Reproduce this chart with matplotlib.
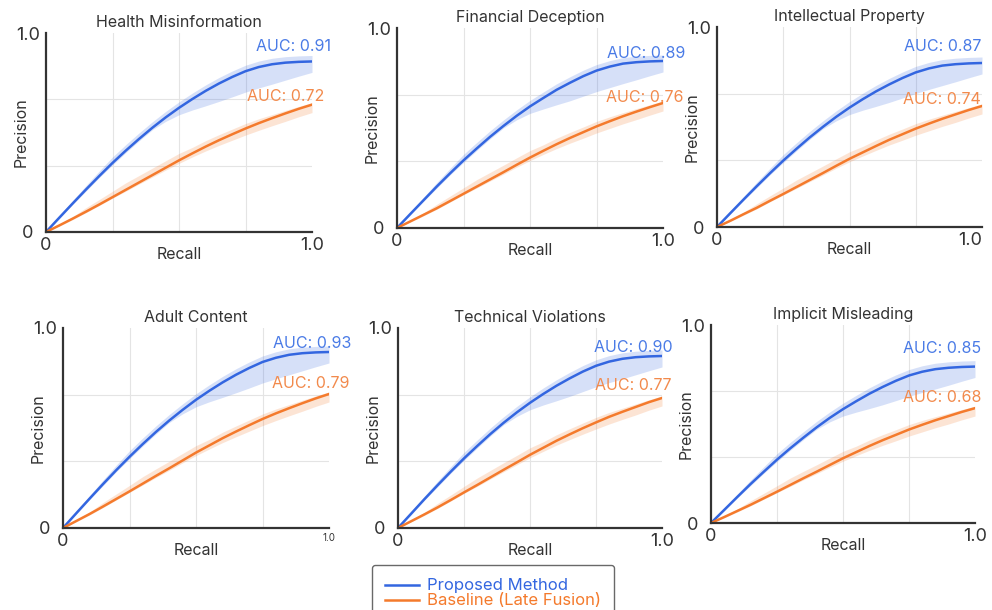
import matplotlib
matplotlib.use("Agg")
import matplotlib.pyplot as plt
import numpy as np

plt.rcParams['font.family'] = ['Inter', 'DejaVu Sans']

recall = [0, .05, .1, .15, .2, .25, .3, .35, .4, .45, .5,
          .55, .6, .65, .7, .75, .8, .85, .9, .95, 1.0]

titles = ['Health Misinformation', 'Financial Deception', 'Intellectual Property',
          'Adult Content', 'Technical Violations', 'Implicit Misleading']
auc_prop = [0.91, 0.89, 0.87, 0.93, 0.90, 0.85]
auc_base = [0.72, 0.76, 0.74, 0.79, 0.77, 0.68]

# precision values
prop_health = [0, .072, .143, .213, .281, .347, .409, .468, .524, .576, .624,
               .668, .709, .746, .779, .808, .829, .843, .851, .855, .857]
prop_fin = [0, .070, .139, .208, .274, .338, .398, .456, .510, .561, .608,
            .650, .691, .726, .759, .787, .807, .822, .829, .833, .835]
prop_ip = [0, .069, .137, .204, .269, .332, .391, .448, .501, .551, .597,
           .639, .678, .713, .745, .773, .793, .807, .814, .818, .82]
prop_adult = [0, .074, .147, .219, .289, .356, .420, .481, .538, .591, .641,
              .686, .728, .766, .800, .830, .851, .866, .874, .878, .88]
prop_tech = [0, .072, .144, .214, .282, .348, .410, .470, .526, .578, .626,
             .670, .711, .748, .782, .811, .832, .846, .854, .858, .86]
prop_impl = [0, .066, .132, .197, .259, .320, .377, .431, .483, .531, .575,
             .615, .653, .687, .718, .745, .764, .777, .784, .788, .79]

base_health = [0, .033, .067, .102, .138, .175, .212, .249, .286, .323, .360,
               .395, .429, .461, .491, .520, .547, .572, .596, .619, .640]
base_fin = [0, .033, .066, .099, .135, .171, .207, .243, .279, .316, .352,
            .386, .419, .450, .479, .508, .534, .559, .582, .604, .625]
base_ip = [0, .031, .064, .096, .131, .165, .200, .235, .270, .306, .341,
           .373, .405, .436, .464, .492, .517, .541, .563, .585, .605]
base_adult = [0, .035, .070, .107, .145, .183, .222, .261, .299, .338, .377,
              .413, .449, .482, .514, .545, .573, .599, .624, .648, .67]
base_tech = [0, .034, .068, .103, .140, .178, .215, .253, .291, .328, .366,
             .401, .436, .468, .499, .528, .556, .581, .605, .629, .65]
base_impl = [0, .030, .061, .092, .125, .158, .192, .226, .259, .293, .327,
             .358, .389, .418, .445, .472, .496, .519, .540, .561, .58]

proposed = [prop_health, prop_fin, prop_ip, prop_adult, prop_tech, prop_impl]
baseline = [base_health, base_fin, base_ip, base_adult, base_tech, base_impl]

# shaded band offsets (above / below the curve)
prop_up = [0, .01, .015, .02, .025, .03, .03, .03, .03, .03, .03,
           .03, .03, .03, .03, .03, .03, .03, .03, .03, .03]
prop_lo = [0, -.005, -.005, -.008, -.008, -.01, -.01, -.01, -.01, -.02, -.035,
           -.055, -.075, -.09, -.1, -.105, -.105, -.1, -.088, -.072, -.055]
base_up = [0, .005, .01, .02, .025, .03, .035, .035, .035, .035, .035,
           .03, .03, .028, .026, .025, .022, .018, .015, .012, .01]
base_lo = [0, -.003, -.005, -.005, -.005, -.005, -.007, -.008, -.01, -.012, -.015,
           -.018, -.022, -.026, -.03, -.033, -.036, -.038, -.04, -.04, -.04]

blue = '#3366e0'
orange = '#f47a2c'

# axes rectangles in pixels: left, right, top, bottom
W, H = 992, 610
boxes = [(46, 312, 33, 232), (397, 663, 28, 228), (717, 982, 27, 227),
         (63, 329, 328, 528), (398, 662, 328, 528), (711, 975, 325, 523)]
# AUC label positions (x in axes fraction, y in data)
blue_pos = [(0.93, .93), (0.936, .875), (0.85, .905), (0.936, .925), (0.89, .90), (0.875, .88)]
orange_pos = [(0.90, .68), (0.93, .655), (0.85, .64), (0.93, .725), (0.89, .71), (0.875, .633)]

fig = plt.figure(figsize=(W / 100, H / 100), dpi=100)

r = np.array(recall)
for i in range(6):
    l, rt, t, b = boxes[i]
    ax = fig.add_axes([l / W, 1 - b / H, (rt - l) / W, (b - t) / H])
    p = np.array(proposed[i])
    q = np.array(baseline[i])
    ax.fill_between(r, p + np.array(prop_lo), p + np.array(prop_up), color=blue, alpha=0.2, lw=0)
    ax.fill_between(r, q + np.array(base_lo), q + np.array(base_up), color=orange, alpha=0.2, lw=0)
    ax.plot(r, p, color=blue, lw=1.8, label='Proposed Method')
    ax.plot(r, q, color=orange, lw=1.8, label='Baseline (Late Fusion)')

    ax.text(blue_pos[i][0], blue_pos[i][1], 'AUC: %.2f' % auc_prop[i], color='#4a7be6',
            fontsize=11.5, ha='center', va='center')
    ax.text(orange_pos[i][0], orange_pos[i][1], 'AUC: %.2f' % auc_base[i], color='#f28a4c',
            fontsize=11.5, ha='center', va='center')

    ax.set_xlim(0, 1)
    ax.set_ylim(0, 1)
    ax.set_xticks([0, 1])
    ax.set_yticks([0, 1])
    ax.set_xticklabels(['0', '1.0'])
    ax.set_yticklabels(['0', '1.0'])
    ax.set_xticks([0.25, 0.5, 0.75], minor=True)
    ax.set_yticks([1 / 3, 2 / 3], minor=True)
    ax.grid(which='minor', color='#e4e4e4', lw=0.8)
    ax.set_axisbelow(True)
    ax.tick_params(which='both', length=0, labelsize=13, colors='#333333')
    ax.tick_params(axis='y', pad=13)
    for lbl in ax.get_yticklabels():
        lbl.set_ha('center')
    if i == 3:
        ax.get_xticklabels()[1].set_fontsize(7)
    if i == 2:
        ax.get_xticklabels()[1].set_ha('right')
    for s in ['top', 'right']:
        ax.spines[s].set_visible(False)
    for s in ['left', 'bottom']:
        ax.spines[s].set_color('#333333')
        ax.spines[s].set_linewidth(1.6)
    ax.set_title(titles[i], fontsize=11.5, color='#333333', pad=4)
    ax.set_xlabel('Recall', fontsize=11.5, color='#333333', labelpad=-5)
    ax.set_ylabel('Precision', fontsize=11.5, color='#333333', labelpad=-9)
    if i == 0:
        handles, labels = ax.get_legend_handles_labels()

leg = fig.legend(handles, labels, loc='upper left', bbox_to_anchor=(372 / W, 1 - 565 / H),
                 borderaxespad=0, fontsize=12, labelcolor='linecolor', frameon=True,
                 handlelength=2.0, borderpad=0.8, labelspacing=0.0, handletextpad=0.5,
                 fancybox=True)
leg.get_frame().set_edgecolor('#444444')
leg.get_frame().set_linewidth(1.0)

fig.savefig('out.png', dpi=100)
